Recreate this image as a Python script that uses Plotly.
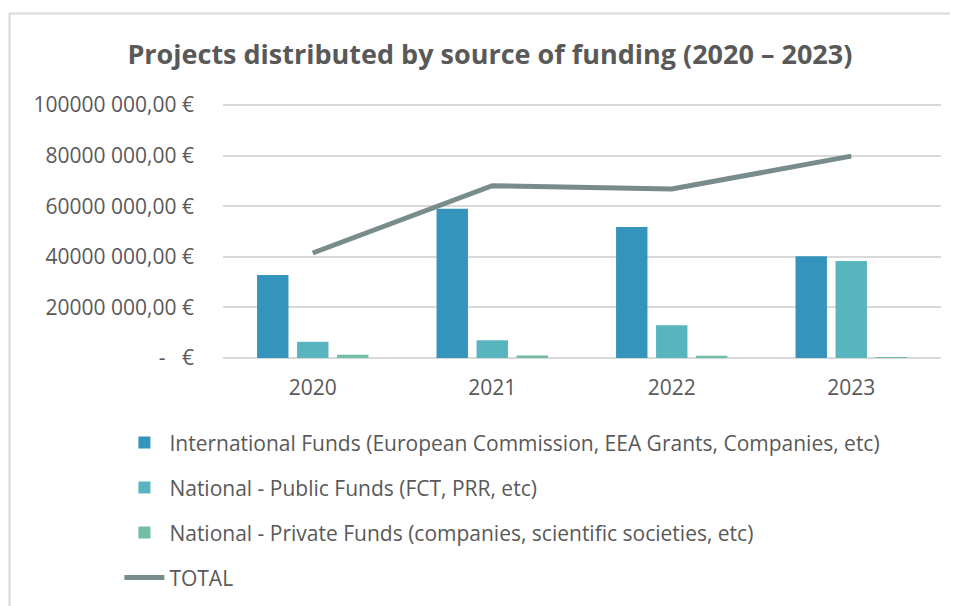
import plotly.graph_objects as go

years = ["2020", "2021", "2022", "2023"]
international = [32.8e6, 59.0e6, 51.8e6, 40.2e6]
national_public = [6.4e6, 7.0e6, 12.9e6, 38.3e6]
national_private = [1.3e6, 1.0e6, 0.9e6, 0.3e6]
total = [41.5e6, 68.1e6, 66.8e6, 79.8e6]

names = [
    "International Funds (European Commission, EEA Grants, Companies, etc)",
    "National - Public Funds (FCT, PRR, etc)",
    "National - Private Funds (companies, scientific societies, etc)",
    "TOTAL",
]
colors = ["#3594BC", "#58B5BF", "#72BDA3", "#798C8C"]

ytick_vals = [0, 20e6, 40e6, 60e6, 80e6, 100e6]
ytick_text = ["-\u00a0\u00a0\u00a0€", "20000 000,00 €", "40000 000,00 €",
              "60000 000,00 €", "80000 000,00 €", "100000 000,00 €"]

FONT = "Open Sans"
GREY = "#595959"

# plot area geometry (figure pixels)
L, W, T, H = 215, 718, 96, 254
B = 606 - T - H
R = 958 - L - W
bottom_px = T + H

fig = go.Figure()
for vals, name, col, grp in [(international, names[0], colors[0], "a"),
                             (national_public, names[1], colors[1], "b"),
                             (national_private, names[2], colors[2], "c")]:
    fig.add_trace(go.Bar(x=years, y=vals, name=name, marker_color=col,
                         marker_line_width=0, legendgroup=grp))
fig.add_trace(go.Scatter(x=years, y=total, name=names[3], mode="lines",
                         line=dict(color=colors[3], width=5), legendgroup="d"))

fig.update_layout(
    width=958, height=606,
    margin=dict(l=L, r=R, t=T, b=B, autoexpand=False),
    paper_bgcolor="white", plot_bgcolor="white",
    barmode="group", bargap=0.3315, bargroupgap=0.215,
    font=dict(family=FONT, color=GREY, size=21),
    title=dict(text="<b>Projects distributed by source of funding (2020 – 2023)</b>",
               x=0.503, xanchor="center", y=0.9224, yanchor="middle",
               xref="container", yref="container",
               font=dict(family=FONT, size=27, color=GREY)),
    showlegend=True,
    legend=dict(orientation="v", x=(111.4 - L) / W, xanchor="left",
                y=(bottom_px - 414.4) / H, yanchor="top",
                font=dict(family=FONT, size=21, color=GREY),
                tracegroupgap=14.7, itemwidth=40, bgcolor="rgba(0,0,0,0)"),
    shapes=[dict(type="rect", xref="paper", yref="paper",
                 x0=(1.5 - L) / W, x1=(990 - L) / W,
                 y0=(bottom_px - 700) / H, y1=(bottom_px - 5.5) / H,
                 line=dict(color="#D9D9D9", width=2), fillcolor="rgba(0,0,0,0)",
                 layer="below")],
)
fig.update_xaxes(type="category", showgrid=False, showline=False, ticks="",
                 tickfont=dict(size=21, color=GREY), ticklabelstandoff=15)
fig.update_yaxes(range=[0, 100.4e6], tickvals=ytick_vals, ticktext=ytick_text,
                 showgrid=True, gridcolor="#D9D9D9", gridwidth=1.5,
                 zeroline=True, zerolinecolor="#D9D9D9", zerolinewidth=1.5,
                 showline=False, ticks="", tickfont=dict(size=21, color=GREY),
                 ticklabelstandoff=28)

fig.write_html("out.html")
